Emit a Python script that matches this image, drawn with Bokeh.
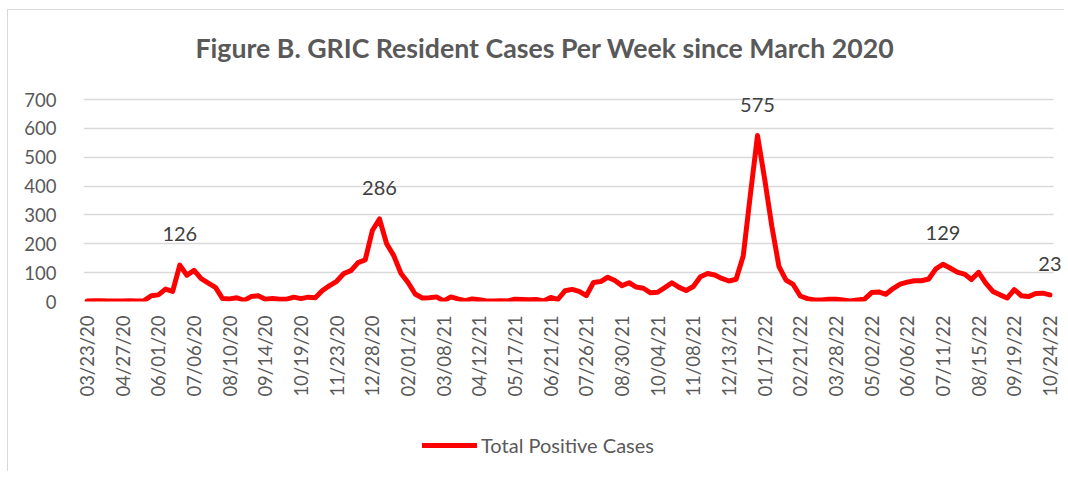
import math
from bokeh.plotting import figure
from bokeh.layouts import column
from bokeh.models import (ColumnDataSource, FixedTicker, Range1d, LabelSet, Label,
                          Legend, LegendItem, BoxAnnotation, CDSView, IndexFilter)
from bokeh.core.properties import value
from bokeh.embed import file_html
from bokeh.resources import INLINE

# ---- data ----
tick_labels = ["03/23/20", "04/27/20", "06/01/20", "07/06/20", "08/10/20", "09/14/20",
               "10/19/20", "11/23/20", "12/28/20", "02/01/21", "03/08/21", "04/12/21",
               "05/17/21", "06/21/21", "07/26/21", "08/30/21", "10/04/21", "11/08/21",
               "12/13/21", "01/17/22", "02/21/22", "03/28/22", "05/02/22", "06/06/22",
               "07/11/22", "08/15/22", "09/19/22", "10/24/22"]

total_positive_cases = [
    2, 3, 3, 2, 2, 2, 3, 2, 3, 20,
    23, 43, 35, 126, 91, 108, 79, 64, 49, 10,
    9, 13, 4, 17, 20, 8, 10, 8, 8, 15,
    10, 15, 13, 38, 55, 70, 97, 107, 135, 144,
    246, 286, 200, 159, 98, 66, 26, 12, 13, 16,
    2, 16, 9, 3, 9, 6, 2, 2, 3, 2,
    8, 7, 6, 7, 2, 14, 7, 37, 42, 35,
    20, 66, 69, 84, 73, 55, 65, 50, 46, 30,
    32, 48, 65, 49, 38, 52, 86, 97, 92, 80,
    71, 77, 158, 370, 575, 425, 262, 122, 74, 59,
    19, 10, 5, 5, 8, 8, 5, 2, 5, 8,
    31, 33, 25, 45, 60, 67, 72, 72, 78, 113,
    129, 116, 102, 95, 76, 101, 64, 35, 23, 12,
    41, 20, 17, 28, 29, 23,
]

labelled_weeks = [13, 41, 94, 120, 135]

series_name = "Total Positive Cases"
title_text = "Figure B. GRIC Resident Cases Per Week since March 2020"

# ---- derived ----
n = len(total_positive_cases)
weeks = list(range(n))
tick_positions = list(range(0, n, 5))
overrides = {pos: lab for pos, lab in zip(tick_positions, tick_labels)}

src = ColumnDataSource(dict(x=weeks, y=total_positive_cases))
lab_src = ColumnDataSource(dict(
    x=labelled_weeks,
    y=[total_positive_cases[i] for i in labelled_weeks],
    t=[str(total_positive_cases[i]) for i in labelled_weeks],
))

FONT = "Lato"
GREY = "#595959"
RED = "#ff0000"
BORDER = "#d9d9d9"

W = 1056
LEFT, RIGHT = 75, 1
H_TITLE, H_MAIN, H_LEG = 60, 330, 71
TOP = 20
FRAME_H = 211
PX_PER_100 = 202 / 7.0
y_end = 100 * FRAME_H / PX_PER_100            # a little headroom above 700 for labels
x_end = -0.5 + (W - LEFT - RIGHT) / (970 / n)  # room on the right for the last label


def strip(height):
    f = figure(width=W, height=height, output_backend="svg", toolbar_location=None,
               x_range=Range1d(0, 1), y_range=Range1d(0, 1),
               x_axis_location=None, y_axis_location=None,
               min_border_left=0, min_border_right=0, min_border_top=0,
               min_border_bottom=0)
    f.grid.visible = False
    f.outline_line_color = None
    f.background_fill_color = "white"
    f.border_fill_color = "white"
    return f


# ---- title strip ----
t = strip(H_TITLE)
t.add_layout(Label(x=112, y=23, x_units="screen", y_units="screen", text=title_text,
                   text_align="left", text_baseline="middle", text_font=FONT,
                   text_font_style="bold", text_font_size="26.7px", text_color=GREY))

# ---- main chart ----
p = figure(width=W, height=H_MAIN, output_backend="svg", toolbar_location=None,
           x_range=Range1d(-0.5, x_end),
           y_range=Range1d(0, y_end),
           min_border_left=LEFT, min_border_right=RIGHT, min_border_top=TOP,
           min_border_bottom=H_MAIN - TOP - FRAME_H)
p.outline_line_color = None
p.background_fill_color = "white"
p.border_fill_color = "white"

p.xaxis.ticker = FixedTicker(ticks=tick_positions)
p.xaxis.major_label_overrides = overrides
p.xaxis.major_label_orientation = math.pi / 2
p.xaxis.axis_line_color = None
p.xaxis.major_tick_line_color = None
p.xaxis.minor_tick_line_color = None
p.xaxis.major_label_standoff = 8
p.xaxis.major_label_text_font = FONT
p.xaxis.major_label_text_font_size = "18.5px"
p.xaxis.major_label_text_color = GREY

y_ticks = list(range(0, 701, 100))
p.yaxis.ticker = FixedTicker(ticks=y_ticks)
p.yaxis.axis_line_color = None
p.yaxis.major_tick_line_color = None
p.yaxis.minor_tick_line_color = None
p.yaxis.major_label_standoff = 21
p.yaxis.major_label_text_font = FONT
p.yaxis.major_label_text_font_size = "18.5px"
p.yaxis.major_label_text_color = GREY

p.xgrid.grid_line_color = None
p.ygrid.ticker = FixedTicker(ticks=y_ticks)
p.ygrid.grid_line_color = BORDER
p.ygrid.grid_line_width = 1.5

# hide the gridline overhang beyond the last category
p.add_layout(BoxAnnotation(left=n - 0.5, fill_color="white", fill_alpha=1.0,
                           line_color=None, level="underlay"))

p.line("x", "y", source=src, line_color=RED, line_width=5,
       line_join="round", line_cap="round")

p.add_layout(LabelSet(x="x", y="y", text="t", source=lab_src, y_offset=31,
                      text_align="center", text_baseline="middle",
                      text_font=value(FONT), text_font_size=value("20px"),
                      text_color="#404040"))

# ---- legend strip ----
# the key renderer keeps one row (outside this strip's visible range) so the
# legend can draw its line sample
q = strip(H_LEG)
key = q.line("x", "y", source=src, view=CDSView(filter=IndexFilter(indices=[0])),
             line_color=RED, line_width=5, line_cap="round")
q.add_layout(Legend(items=[LegendItem(label=series_name, renderers=[key])],
                    location=(339, 14), orientation="horizontal",
                    glyph_width=55, glyph_height=20, label_standoff=4,
                    padding=0, margin=0, border_line_color=None,
                    background_fill_alpha=0,
                    label_text_font=FONT, label_text_font_size="20px",
                    label_text_color=GREY))

layout = column(t, p, q, spacing=0,
                styles={"margin-left": "7px", "margin-top": "9px",
                        "border-left": f"1px solid {BORDER}",
                        "border-top": f"1px solid {BORDER}"})
open("out.html", "w").write(file_html(layout, INLINE))
